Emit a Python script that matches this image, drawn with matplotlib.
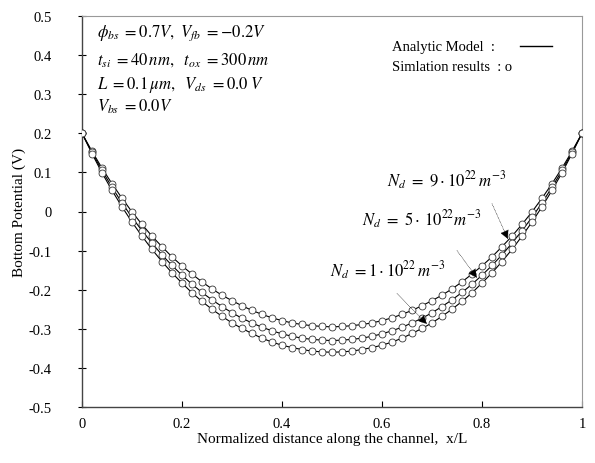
import matplotlib
matplotlib.use("Agg")
import matplotlib.pyplot as plt
from matplotlib.ticker import FixedLocator, FixedFormatter

plt.rcParams['font.family'] = ['Liberation Serif', 'DejaVu Serif']
plt.rcParams['mathtext.fontset'] = 'stix'

# ---- data ----
x_pos = [0.00, 0.02, 0.04, 0.06, 0.08, 0.10, 0.12, 0.14, 0.16, 0.18, 0.20,
         0.22, 0.24, 0.26, 0.28, 0.30, 0.32, 0.34, 0.36, 0.38, 0.40, 0.42,
         0.44, 0.46, 0.48, 0.50, 0.52, 0.54, 0.56, 0.58, 0.60, 0.62, 0.64,
         0.66, 0.68, 0.70, 0.72, 0.74, 0.76, 0.78, 0.80, 0.82, 0.84, 0.86,
         0.88, 0.90, 0.92, 0.94, 0.96, 0.98, 1.00]

# Nd = 9e22 m^-3 (upper curve)
pot_nd9 = [0.200, 0.154, 0.111, 0.071, 0.034, -0.001, -0.033, -0.063, -0.090,
           -0.116, -0.139, -0.160, -0.180, -0.198, -0.214, -0.228, -0.241,
           -0.253, -0.263, -0.272, -0.279, -0.285, -0.289, -0.292, -0.294,
           -0.295, -0.294, -0.292, -0.289, -0.285, -0.279, -0.272, -0.263,
           -0.253, -0.241, -0.228, -0.214, -0.198, -0.180, -0.160, -0.139,
           -0.116, -0.090, -0.063, -0.033, -0.001, 0.034, 0.071, 0.111,
           0.154, 0.200]

# Nd = 5e22 m^-3 (middle curve)
pot_nd5 = [0.200, 0.151, 0.105, 0.062, 0.022, -0.015, -0.049, -0.081, -0.111,
           -0.138, -0.163, -0.186, -0.207, -0.226, -0.243, -0.259, -0.273,
           -0.285, -0.296, -0.305, -0.313, -0.319, -0.324, -0.327, -0.329,
           -0.330, -0.329, -0.327, -0.324, -0.319, -0.313, -0.305, -0.296,
           -0.285, -0.273, -0.259, -0.243, -0.226, -0.207, -0.186, -0.163,
           -0.138, -0.111, -0.081, -0.049, -0.015, 0.022, 0.062, 0.105,
           0.151, 0.200]

# Nd = 1e22 m^-3 (lower curve)
pot_nd1 = [0.200, 0.148, 0.099, 0.054, 0.012, -0.027, -0.063, -0.097, -0.128,
           -0.157, -0.183, -0.208, -0.230, -0.250, -0.268, -0.285, -0.299,
           -0.312, -0.324, -0.334, -0.342, -0.348, -0.353, -0.357, -0.359,
           -0.360, -0.359, -0.357, -0.353, -0.348, -0.342, -0.334, -0.324,
           -0.312, -0.299, -0.285, -0.268, -0.250, -0.230, -0.208, -0.183,
           -0.157, -0.128, -0.097, -0.063, -0.027, 0.012, 0.054, 0.099,
           0.148, 0.200]

x_ticks = [0, 0.2, 0.4, 0.6, 0.8, 1.0]
x_tick_labels = ['0', '0.2', '0.4', '0.6', '0.8', '1']
y_ticks = [0.5, 0.4, 0.3, 0.2, 0.1, 0.0, -0.1, -0.2, -0.3, -0.4, -0.5]
y_tick_labels = ['0.5', '0.4', '0.3', '0.2', '0.1', '0', '-0.1', '-0.2',
                 '-0.3', '-0.4', '-0.5']

curve_labels = [r'$N_d\ =\ 9\cdot10^{22}\,m^{-3}$',
                r'$N_d\ =\ 5\cdot\,10^{22}m^{-3}$',
                r'$N_d\ =1\cdot10^{22}\,m^{-3}$']

# ---- figure ----
fig = plt.figure(figsize=(5.95, 4.64), dpi=100)
ax = fig.add_axes([82/595, 1-408/464, 500/595, 391/464])

for series in (pot_nd9, pot_nd5, pot_nd1):
    ax.plot(x_pos, series, color='black', lw=0.8, zorder=2)
    ax.plot(x_pos, series, linestyle='none', marker='o', markersize=5.0,
            markerfacecolor='white', markeredgecolor='#333333',
            markeredgewidth=0.6, zorder=3)

ax.set_xlim(0, 1)
ax.set_ylim(-0.5, 0.5)
ax.xaxis.set_major_locator(FixedLocator(x_ticks))
ax.xaxis.set_major_formatter(FixedFormatter(x_tick_labels))
ax.yaxis.set_major_locator(FixedLocator(y_ticks))
ax.yaxis.set_major_formatter(FixedFormatter(y_tick_labels))
ax.tick_params(axis='x', direction='in', length=4, width=0.8, labelsize=10.5, pad=7)
ax.tick_params(axis='y', direction='inout', length=6, width=0.8, labelsize=10.5, pad=19)

for s in ('left', 'bottom'):
    ax.spines[s].set_color('#444444')
    ax.spines[s].set_linewidth(1.0)
for s in ('top', 'right'):
    ax.spines[s].set_color('#999999')
    ax.spines[s].set_linewidth(0.8)

ax.set_xlabel('Normalized distance along the channel,  x/L', fontsize=11, labelpad=2)
ax.set_ylabel('Bottom Potential (V)', fontsize=11)
ax.yaxis.set_label_coords(-0.112, 0.5)

# parameter block
params = [r'$\phi_{bs}\ =0.7V,\ V_{fb}\ =-0.2V$',
          r'$t_{si}\ =40\,nm,\ \ t_{ox}\ =300\,nm$',
          r'$L\ =0.1\,\mu m,\ \ V_{ds}\ =0.0\ V$',
          r'$V_{bs}\ =0.0V$']
param_y = [0.459, 0.390, 0.326, 0.270]
for t, yv in zip(params, param_y):
    ax.text(0.03, yv, t, fontsize=12, va='center', ha='left')

# legend-like text
ax.text(0.62, 0.423, 'Analytic Model  :', fontsize=10.5, va='center', ha='left')
ax.plot([0.876, 0.94], [0.423, 0.423], color='black', lw=1.0)
ax.text(0.62, 0.370, 'Simlation results  : o', fontsize=10.5, va='center', ha='left')

# curve annotations
ax.text(0.61, 0.08, curve_labels[0], fontsize=12, va='center', ha='left')
ax.text(0.56, -0.018, curve_labels[1], fontsize=12, va='center', ha='left')
ax.text(0.495, -0.148, curve_labels[2], fontsize=12, va='center', ha='left')

arrow_kw = dict(arrowstyle='-|>', color='black', lw=0.4, linestyle=':',
                mutation_scale=14, shrinkA=0, shrinkB=0)
ax.annotate('', xy=(0.852, -0.071), xytext=(0.82, 0.02), arrowprops=arrow_kw)
ax.annotate('', xy=(0.79, -0.170), xytext=(0.75, -0.10), arrowprops=arrow_kw)
ax.annotate('', xy=(0.69, -0.288), xytext=(0.63, -0.21), arrowprops=arrow_kw)

fig.savefig('out.png', dpi=100)
